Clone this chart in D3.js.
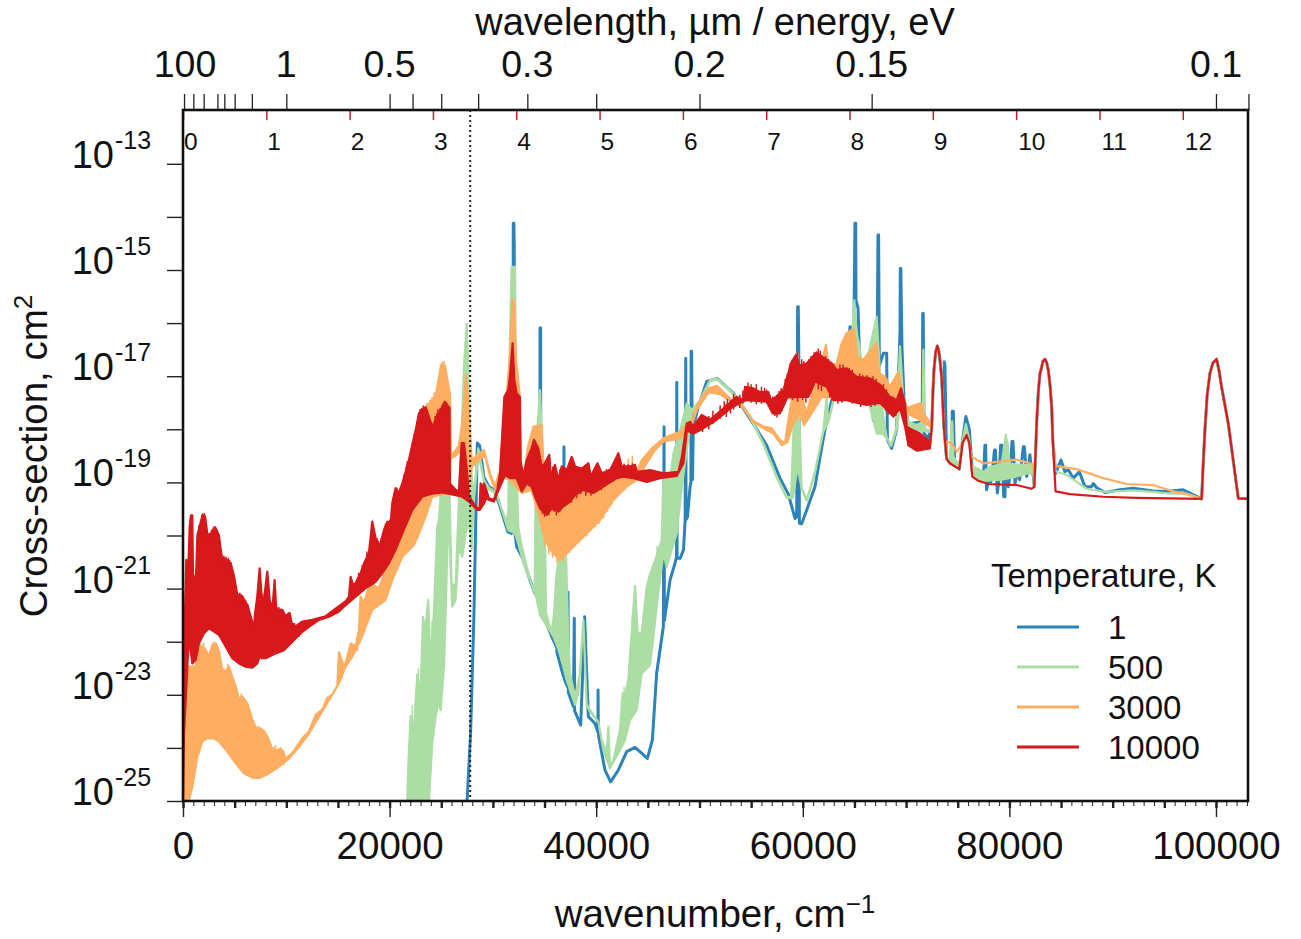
<!DOCTYPE html>
<html>
<head>
<meta charset="utf-8">
<script src="https://cdn.jsdelivr.net/npm/d3@7"></script>
<style>
html, body { margin: 0; padding: 0; background: #fff; }
text { font-family: "Liberation Sans", Arial, sans-serif; fill: #111; }
</style>
</head>
<body>
<div id="chart"></div>
<script>
// tick labels and legend
var xMajor = [0, 20000, 40000, 60000, 80000, 100000];
var yExponents = [-25, -24, -23, -22, -21, -20, -19, -18, -17, -16, -15, -14, -13];
var yLabelled = [-25, -23, -21, -19, -17, -15, -13];
var wavelengthTicks = [100, 10, 5, 3, 2.5, 2, 1.5, 1, 0.5, 0.45, 0.4, 0.35, 0.3, 0.25, 0.2, 0.15, 0.1, 0.09695];
var wavelengthLabels = [100, 1, 0.5, 0.3, 0.2, 0.15, 0.1];
var energyTicks = [0, 1, 2, 3, 4, 5, 6, 7, 8, 9, 10, 11, 12];
var temperatures = ["1", "500", "3000", "10000"];
var colors = ["#2b83ba", "#abdda4", "#fdae61", "#d7191c"];
var dottedWavenumber = 27800;

// the three narrow peaks all temperatures share: [wavenumber, log10 cross-section]
var peak1 = [[72470,-18.01],[72600,-17.3],[72700,-16.88],[72860,-16.55],[73020,-16.43],[73160,-16.52],[73280,-16.7],[73440,-17.01],[73660,-17.95],[73920,-18.55]];
var peak2 = [[82410,-19.08],[82640,-17.89],[82800,-17.3],[82960,-16.95],[83100,-16.85],[83250,-16.72],[83440,-16.68],[83620,-16.75],[83780,-16.9],[83950,-17.2],[84100,-17.6],[84200,-18.2]];
var peak3 = [[98610,-19.31],[98800,-18.5],[98930,-18.01],[99150,-17.35],[99410,-16.95],[99700,-16.75],[100060,-16.68],[100300,-16.9],[100540,-17.2],[101190,-17.89],[102160,-19.3],[103100,-19.31]];

// 1 K is a line with sharp spikes
var blueLine = [[27500,-25],[27840,-23.73],[28160,-21.53],[28490,-18.26],[28710,-18.3],[29130,-18.9],[29610,-19.08],[30100,-19.14],[30580,-19.39],[31450,-19.93],[31810,-19.96],[31950,-19.3],[31970,-14.12],[32030,-14.12],[32070,-14.56],[32100,-19.9],[32300,-20.21],[32950,-20.46],[33590,-20.84],[34080,-21.09],[34400,-21.18],[34540,-21.2],[34560,-16.09],[34620,-16.09],[34640,-21.4],[35850,-21.97],[36150,-22.1],[36170,-20.92],[36200,-22.2],[36820,-22.65],[36880,-18.33],[36910,-22.7],[37230,-22.85],[37270,-21.07],[37300,-22.95],[37790,-23.22],[37880,-21.56],[37910,-23.3],[38500,-23.57],[38690,-22.6],[38880,-21.53],[39080,-22.6],[39240,-23.41],[39880,-23.54],[40170,-23.7],[40180,-22.91],[40210,-23.75],[40850,-24.42],[41400,-24.64],[42140,-24.42],[42950,-24.07],[43760,-23.99],[44400,-24.1],[44950,-24.2],[45440,-23.85],[45850,-22.6],[46500,-21.72],[46570,-17.95],[46600,-21.6],[47150,-20.84],[47630,-20.52],[47780,-20.4],[47800,-17.12],[47830,-20.43],[48130,-20.43],[48450,-20.27],[48610,-19.71],[48670,-16.66],[48700,-19.7],[48840,-19.65],[49090,-19.08],[49170,-19],[49190,-16.53],[49240,-16.53],[49320,-18.95],[49400,-17.95],[49900,-17.57],[50700,-17.1],[51690,-17.04],[53280,-17.32],[54890,-17.8],[56500,-18.3],[57790,-18.92],[58600,-19.22],[59250,-19.68],[59410,-19.65],[59500,-15.69],[59560,-15.69],[59630,-16.82],[59670,-19.77],[59890,-19.78],[60380,-19.52],[61180,-19.08],[61670,-18.52],[62150,-18],[62800,-17.45],[64250,-17],[64570,-16.07],[64950,-16.1],[65050,-14.12],[65120,-14.12],[65150,-15.57],[65350,-15.72],[65540,-17],[66510,-17.13],[66830,-17.82],[67150,-17.9],[67280,-14.34],[67340,-14.34],[67410,-16.8],[67800,-16.57],[68120,-16.57],[68190,-18.2],[68600,-18.36],[69090,-18],[69410,-16.2],[69440,-14.97],[69490,-14.97],[69600,-16.44],[69800,-17.45],[70220,-17.9],[71350,-17.86],[71560,-18],[71610,-15.82],[71660,-15.82],[71730,-18.08],[72150,-18.17],[72310,-18.05]];
var blueTailA = [[73680,-18],[73700,-16.73],[73760,-16.8],[73920,-18.55],[74240,-18.64],[74440,-18.3],[74470,-17.66],[74570,-17.66],[74700,-18.64],[75150,-18.75],[75470,-18.2],[75790,-17.76],[76120,-18],[76410,-18.77],[76900,-18.82],[77200,-18.95],[77500,-18.9],[77630,-18.3],[77700,-18.3],[77790,-19.14],[78050,-18.9],[78200,-19],[78400,-18.7],[78560,-18.39],[78650,-18.39],[78830,-19.2],[79000,-18.95],[79150,-18.3],[79280,-18.3],[79450,-19.27],[79570,-19.27],[79680,-18.26],[79760,-18.26],[79890,-19.08],[80050,-18.9],[80250,-18.23],[80350,-18.23],[80540,-19.02],[80800,-18.8],[81000,-18.95],[81200,-18.6],[81350,-18.33],[81450,-18.33],[81670,-18.89],[81850,-18.7],[81990,-18.48],[82150,-18.8],[82310,-18.86]];
var blueTailB = [[84470,-18.83],[84990,-18.58],[85380,-18.8],[85700,-18.76],[86190,-18.92],[86770,-18.8],[87310,-19.08],[87960,-19.08],[88120,-19.02],[88450,-19.1],[89250,-19.19],[90700,-19.14],[91990,-19.11],[93930,-19.16],[95220,-19.17],[96830,-19.14]];

// 500 K: upper and lower edge of the dense band
var greenHi = [[21700,-25],[21810,-24.35],[22030,-23.4],[22360,-23.65],[22680,-22.62],[23000,-23],[23230,-21.53],[23420,-21.84],[23550,-21.59],[23740,-21.21],[23970,-22.47],[24290,-21.46],[24610,-19.83],[24780,-19.71],[24940,-19.24],[25580,-19.24],[25800,-19.2],[26000,-20.9],[26390,-20.96],[26710,-19.33],[26970,-18.08],[27200,-16.82],[27460,-16.02],[27710,-17.34],[27870,-18.64],[28100,-19.33],[28590,-18.36],[29130,-18.95],[29610,-19.1],[30360,-19.2],[30850,-19.5],[31330,-19.75],[31500,-19.5],[31590,-16.82],[31810,-14.94],[32140,-14.94],[32240,-17.2],[32300,-18.8],[32460,-19.85],[32790,-20.2],[33590,-20.84],[34050,-21.05],[34150,-18.6],[34300,-18],[34560,-17.26],[34720,-18.08],[34880,-19.33],[35050,-19.96],[35140,-21.45],[35690,-21.84],[35900,-21.5],[36170,-20.7],[36500,-20.32],[37080,-20.32],[37300,-21.97],[37460,-22.6],[37950,-23.03],[38430,-22.6],[38760,-21.59],[39080,-23.22],[39400,-23.28],[40210,-23.51],[40530,-23.85],[41010,-24.1],[41180,-23.6],[41340,-24.35],[41660,-24.23],[42300,-23.66],[42560,-22.97],[42790,-23.03],[43110,-22.72],[43760,-20.95],[44010,-21.84],[44400,-21.84],[44890,-20.98],[45210,-20.73],[45690,-20.48],[46340,-20.08],[46510,-18.89],[47160,-18.95],[47480,-18.45],[48130,-18.02],[48770,-17.51],[49260,-17.64],[50050,-17.45],[51020,-17.07],[51660,-17.04],[52630,-17.2],[53600,-17.39],[54890,-17.76],[56180,-18.26],[57470,-18.89],[58440,-19.27],[58860,-19.27],[59090,-18.08],[59500,-16.57],[59670,-17.76],[59890,-19.1],[60380,-19.33],[61180,-18.8],[61990,-18.02],[62310,-17.4],[62470,-17.85],[62960,-17.45],[64250,-17],[64730,-16.4],[64990,-15.57],[65220,-16.19],[65540,-16.5],[65860,-17],[67150,-15.88],[67410,-16.73],[67740,-17.7],[68120,-18.15],[68540,-18.3],[69090,-17.95],[69410,-16.44],[69730,-17.45],[70220,-17.86],[71030,-17.92],[71610,-17.86],[71670,-16.5],[71830,-18],[72310,-18.02]];
var greenLo = [[23810,-25],[24130,-23.92],[24450,-23.42],[24780,-23.1],[24940,-23.29],[25260,-22.47],[25420,-21.47],[25740,-19.33],[25900,-20.59],[26070,-21.34],[26390,-21.21],[26710,-20.15],[26810,-20.27],[27030,-20.4],[27620,-19.65],[27940,-20.27],[28100,-19.45],[28590,-18.45],[29130,-18.98],[29610,-19.13],[30360,-19.22],[30850,-19.52],[31490,-19.9],[32140,-19.96],[32460,-20.15],[32950,-20.52],[33590,-20.84],[34080,-21.09],[34240,-21.2],[34560,-21.5],[35850,-21.9],[36500,-22.22],[37140,-22.72],[37950,-23.19],[38270,-22.97],[38760,-21.62],[39080,-23.16],[39400,-23.32],[40210,-23.51],[40690,-24.04],[41340,-24.38],[42140,-24.1],[42790,-23.85],[43270,-23.47],[43920,-23.29],[44400,-22.6],[45210,-22.44],[45530,-21.92],[46020,-21.07],[46500,-20.33],[46820,-20.59],[47790,-19.96],[48290,-19.08],[48770,-18.39],[49260,-17.67],[50050,-17.47],[51020,-17.09],[51660,-17.06],[52630,-17.22],[53600,-17.41],[54890,-17.78],[56180,-18.28],[57470,-18.91],[58440,-19.29],[59050,-19.29],[59500,-18.7],[59890,-19.12],[60380,-19.35],[61180,-18.82],[61990,-18.04],[62470,-17.87],[62960,-17.47],[64250,-17.02],[64730,-16.88],[65220,-16.88],[65540,-16.82],[66670,-17.7],[67150,-18.08],[67740,-18.08],[68120,-18.17],[68540,-18.32],[69090,-18],[69410,-17.57],[69900,-17.89],[71030,-18.02],[72310,-18.05]];
var greenTailHi = [[73920,-18.55],[74240,-18.6],[74400,-17.9],[74470,-17.85],[74570,-18.5],[75150,-18.7],[75470,-18.2],[75790,-17.9],[76120,-18.2],[76410,-18.85],[76500,-18.7],[77470,-18.8],[78000,-18.72],[79250,-18.65],[79660,-18.1],[80050,-18.65],[82310,-18.68]];
var greenTailLo = [[73920,-18.57],[74240,-18.66],[75150,-18.75],[75470,-18.23],[75790,-17.93],[76120,-18.23],[76410,-18.87],[77470,-18.97],[79250,-18.95],[80500,-18.9],[82310,-18.8]];
var greenTailB = [[84470,-18.79],[85540,-18.86],[87480,-19.12],[89250,-19.18],[91990,-19.15],[93930,-19.18],[95560,-19.21],[97160,-19.21]];
var greenTips = [[22200,-23.2],[22800,-22.5],[23300,-21.6],[23650,-21.4],[24100,-21.6],[24450,-20.6],[24700,-19.9],[25000,-19.4],[42700,-22.85],[43300,-22.2],[43500,-21.5],[44700,-21.3],[45000,-20.85],[45400,-20.6],[45900,-20.2],[46800,-19.4],[47300,-18.85],[47900,-18.3]];

// 3000 K band
var orangeHi = [[0,-24.98],[130,-23.73],[260,-22.78],[420,-22.47],[650,-22.47],[970,-22.47],[1230,-22.47],[1390,-22.15],[1870,-22.09],[2190,-22.15],[2520,-22.28],[2840,-22.06],[3160,-22.03],[3480,-22.18],[3810,-22.53],[4130,-22.56],[4450,-22.47],[4770,-22.66],[5100,-22.84],[5420,-23.1],[5740,-23.03],[6230,-23.16],[6710,-23.47],[7100,-23.63],[7520,-23.63],[8000,-23.73],[8320,-23.85],[8650,-24.04],[9130,-24.04],[9610,-24.04],[9940,-24.2],[10580,-24.1],[11550,-23.82],[12190,-23.69],[12840,-23.38],[13480,-23.28],[13970,-23.06],[14450,-23],[14940,-22.84],[15100,-22.2],[15580,-22.47],[15740,-22.4],[16230,-22.03],[16710,-22.09],[17030,-21.78],[17190,-21.15],[17520,-21.28],[18000,-20.96],[18320,-20.9],[18650,-20.96],[18970,-20.99],[19610,-20.65],[20260,-20.4],[20900,-20.21],[21550,-19.83],[22190,-19.52],[22840,-19.27],[22940,-17.82],[23720,-17.54],[24490,-17.35],[24970,-16.8],[25360,-16.8],[25850,-17.35],[25950,-18.5],[26390,-18.4],[26710,-18.3],[27010,-17.92],[27400,-16.98],[27590,-17.45],[27880,-18.39],[27980,-18.58],[28400,-18.5],[29130,-18.39],[29720,-18.83],[30200,-19.08],[30690,-18.77],[31650,-16.63],[31880,-15.57],[32040,-15.57],[32240,-16.7],[32570,-17.3],[32690,-18.83],[32950,-18.95],[33430,-18.3],[33920,-17.95],[34720,-17.92],[34880,-18.58],[35500,-18.9],[38000,-18.9],[41000,-18.9],[43930,-18.8],[44410,-18.58],[45380,-18.36],[46510,-18.17],[48130,-18.04],[49260,-17.82],[49900,-17.5],[50880,-17.23],[51690,-17.18],[53280,-17.48],[54250,-17.57],[55210,-17.84],[56180,-17.95],[56990,-17.98],[57790,-18.2],[58280,-18.26],[58500,-17.95],[58920,-17.45],[59500,-17.07],[59890,-17.39],[60380,-17.7],[61180,-17.13],[61990,-16.62],[62250,-16.41],[62470,-16.82],[63280,-16.76],[63770,-16.38],[64250,-16.19],[64960,-16.1],[65280,-16.63],[65860,-16.69],[67150,-16.38],[67410,-16.95],[67960,-17.01],[68440,-17.2],[69250,-16.92],[69730,-17.39],[70060,-17.6],[71510,-17.5],[71670,-17.7],[72310,-17.86]];
var orangeLo = [[580,-24.98],[900,-24.73],[1390,-24.17],[1870,-23.88],[2350,-23.82],[3000,-23.82],[3480,-23.88],[4290,-24.07],[5100,-24.29],[5900,-24.48],[6710,-24.56],[7360,-24.57],[8320,-24.48],[9290,-24.35],[10260,-24.2],[11230,-23.98],[12190,-23.73],[13160,-23.41],[14130,-23.1],[15100,-22.78],[15740,-22.47],[16390,-22.28],[17190,-21.97],[17680,-21.72],[18320,-21.4],[19610,-21.21],[20260,-20.84],[21230,-20.4],[22360,-20.18],[22840,-19.96],[23480,-19.65],[24130,-19.27],[25840,-19.2],[25900,-18.55],[26390,-18.5],[26900,-18.4],[27100,-18.8],[27500,-19.3],[27980,-18.7],[28500,-18.6],[29240,-18.5],[29720,-18.88],[30200,-19.12],[30690,-18.89],[31650,-18.95],[32790,-19.2],[33750,-19.14],[34400,-19.58],[34880,-19.96],[35530,-20.27],[36490,-20.46],[37790,-20.21],[39080,-19.96],[40370,-19.71],[41660,-19.33],[42950,-19.08],[43930,-18.95],[44890,-18.64],[45700,-18.39],[46510,-18.23],[48130,-18.17],[49090,-18],[49740,-17.64],[50880,-17.3],[51990,-17.34],[53280,-17.5],[54250,-17.59],[55210,-17.86],[56180,-17.98],[57150,-18.08],[57960,-18.3],[58500,-18.24],[59090,-17.89],[59730,-17.7],[60120,-17.92],[60860,-17.7],[61830,-17.39],[62800,-17.4],[65000,-17.4],[68770,-17.6],[70060,-17.7],[71350,-17.82],[72310,-17.95]];
var orangeTailA = [[73920,-18.23],[74400,-18.26],[74890,-18.42],[75370,-18.3],[75860,-18.08],[76340,-18.52],[77470,-18.64],[79090,-18.61],[80700,-18.57],[82310,-18.66]];
var orangeTailB = [[84470,-18.69],[86510,-18.75],[89090,-18.92],[91350,-19.03],[93930,-19.05],[95870,-19.17],[97160,-19.22]];
var orangeTips = [[1500,-22.05],[1700,-22.05],[2000,-22.02],[2300,-22.2],[2650,-22.18],[2950,-22],[3300,-22.1],[3600,-22.3],[3950,-22.5],[4250,-22.5],[4350,-22.42],[4600,-22.55],[4900,-22.7],[5250,-22.95],[5550,-23.02],[5650,-22.98],[5900,-23.08],[6050,-23.1],[6400,-23.25],[6550,-23.35],[6850,-23.55],[7000,-23.6],[7300,-23.58],[7650,-23.65],[7800,-23.65],[8150,-23.8],[8450,-23.9],[8800,-23.98],[8950,-23.95],[9300,-24],[9450,-23.98],[9750,-24.05],[15200,-22.3],[15400,-22.4],[16900,-21.9],[17300,-21.5],[23000,-17.75],[23200,-17.7],[23400,-17.58],[23600,-17.5],[23900,-17.45],[24100,-17.4],[24300,-17.3],[24600,-17.25],[24800,-17],[25000,-16.75],[25150,-16.72],[25300,-16.72],[25500,-17],[25650,-17.2]];
var orangeBottomTips = [[35000,-20.2],[35400,-20.35],[35800,-20.42],[36200,-20.52],[36800,-20.5],[37000,-20.35],[37400,-20.33],[37900,-20.22],[38300,-20.15],[38700,-20.06],[39100,-20.02],[39500,-19.92],[39900,-19.85],[40300,-19.78],[40700,-19.68],[41100,-19.55],[41500,-19.42],[41900,-19.3],[42300,-19.2],[42700,-19.15],[43100,-19.05],[43500,-19]];

// 10000 K band
var redHi = [[0,-25],[60,-23.1],[190,-21.47],[320,-20.46],[520,-20.59],[650,-19.83],[770,-19.62],[900,-19.62],[970,-20.71],[1230,-20.96],[1390,-20],[1610,-19.83],[1870,-19.64],[2130,-19.64],[2350,-19.96],[2520,-20.02],[2840,-19.93],[3160,-19.87],[3480,-20],[3740,-20.4],[4130,-20.46],[4610,-20.52],[4940,-20.77],[5260,-21.12],[5740,-21.15],[6230,-21.31],[6650,-21.59],[6840,-21.78],[6970,-21.47],[7190,-21.15],[7420,-20.62],[7610,-21.15],[7840,-21.21],[8160,-20.68],[8390,-21.21],[8650,-21.4],[8870,-20.84],[9030,-21.4],[9610,-21.4],[9940,-21.52],[10320,-21.46],[10520,-21.65],[10900,-21.71],[11550,-21.62],[12520,-21.59],[13810,-21.52],[15100,-21.33],[15740,-21.24],[16070,-21.15],[16230,-20.78],[16450,-20.93],[16710,-20.9],[17190,-20.71],[17680,-20.46],[18000,-20.33],[18320,-19.74],[18650,-20.05],[19030,-20.21],[19450,-19.9],[19780,-19.74],[20100,-19.77],[20260,-19.39],[20580,-19.11],[20900,-19.2],[21230,-19.02],[21870,-18.58],[22520,-18.02],[22840,-17.7],[23480,-17.58],[24130,-17.95],[24780,-17.7],[25360,-17.48],[25800,-17.6],[25840,-19.02],[26390,-19.14],[26710,-19.17],[26970,-18.26],[27200,-18.26],[27450,-18.7],[27680,-19.24],[28000,-19.36],[28490,-19.49],[28710,-19.49],[28810,-19.02],[28970,-19.11],[29130,-19.02],[29360,-19.14],[29610,-19.3],[30100,-19.33],[30420,-19.14],[30690,-18.83],[31110,-17.39],[31490,-17.26],[31650,-17],[31910,-16.38],[32070,-17.07],[32300,-17.32],[32620,-17.39],[32690,-18.61],[32950,-18.89],[33270,-18.58],[33750,-18.36],[33980,-18.2],[34400,-18.36],[34720,-18.7],[35050,-18.64],[35460,-18.48],[35600,-18.89],[36010,-18.67],[36340,-18.95],[36660,-18.7],[37150,-18.77],[37630,-18.52],[37950,-18.7],[38600,-18.74],[39240,-18.64],[39470,-18.89],[40120,-18.64],[40540,-18.83],[41350,-18.77],[42150,-18.45],[42470,-18.7],[43280,-18.7],[43760,-18.67],[43930,-18.8],[45220,-18.77],[46510,-18.83],[47960,-18.8],[48290,-18.52],[48770,-17.89],[49090,-17.86],[49400,-17.95],[50210,-17.73],[51020,-17.82],[52310,-17.61],[53600,-17.39],[54250,-17.45],[54410,-17.2],[55210,-17.23],[55860,-17.3],[56670,-17.3],[56890,-17.45],[57410,-17.39],[58120,-17.26],[58600,-16.95],[58830,-16.76],[59340,-16.6],[59670,-16.8],[60380,-16.76],[61340,-16.55],[61990,-16.65],[62800,-16.76],[63280,-16.88],[64250,-16.85],[65220,-17.01],[66510,-17.04],[67480,-17.16],[68440,-17.39],[69090,-17.45],[69510,-17.23],[69900,-17.52],[70060,-17.95],[70700,-18.02],[71350,-18.08],[72310,-18.24]];
var redLo = [[0,-25],[100,-23.73],[420,-22.47],[580,-21.9],[900,-22.41],[1230,-22.34],[1550,-22.03],[2030,-21.84],[2520,-21.75],[3000,-21.81],[3480,-21.87],[4130,-22.09],[4770,-22.31],[5420,-22.41],[6060,-22.47],[6710,-22.49],[7190,-22.41],[7420,-22.28],[7610,-22.31],[8000,-22.31],[8970,-22.22],[9770,-22.16],[10580,-22],[11390,-21.84],[12190,-21.72],[13160,-21.59],[14130,-21.53],[15100,-21.43],[15740,-21.31],[16710,-21.15],[17680,-20.99],[18650,-20.87],[19290,-20.71],[19940,-20.52],[20580,-20.27],[21230,-19.96],[22190,-19.52],[23160,-19.27],[24130,-19.21],[25100,-19.19],[26390,-19.24],[27030,-19.27],[27680,-19.36],[28000,-19.42],[28490,-19.52],[28710,-19.52],[29130,-19.4],[29360,-19.3],[29610,-19.33],[30100,-19.36],[30420,-19.2],[30690,-19.08],[31170,-18.86],[31650,-18.92],[32300,-18.92],[32790,-19.17],[33270,-19.02],[33750,-19.08],[34080,-19.27],[34560,-19.49],[35210,-19.61],[35690,-19.49],[36340,-19.55],[36820,-19.45],[37470,-19.36],[37950,-19.24],[38760,-19.14],[39720,-19.2],[40690,-19.08],[41980,-18.92],[42630,-18.89],[43600,-18.92],[44890,-18.99],[46180,-18.92],[47790,-18.88],[48450,-18.64],[48770,-18.02],[49400,-18.08],[50050,-18.02],[51660,-17.82],[52950,-17.61],[53920,-17.5],[54570,-17.45],[56500,-17.48],[57080,-17.7],[57790,-17.7],[58500,-17.4],[59730,-17.39],[60540,-17.39],[61180,-17.1],[62310,-17.2],[62960,-17.45],[64250,-17.45],[65220,-17.5],[66190,-17.54],[67480,-17.5],[68770,-17.76],[69410,-17.6],[69900,-17.95],[70220,-18.3],[71030,-18.4],[72310,-18.36]];
var redTailA = [[74240,-18.64],[75150,-18.75],[75470,-18.26],[75860,-18.11],[76120,-18.26],[76410,-18.89],[76990,-18.97],[77960,-19.03],[80700,-19.05],[82150,-19.12]];
var redTailB = [[84470,-19.17],[85860,-19.22],[89090,-19.27],[92320,-19.29]];
var redTips = [[1450,-19.95],[1550,-19.8],[1650,-19.78],[1750,-19.7],[1830,-19.6],[1920,-19.58],[2000,-19.62],[2080,-19.58],[2180,-19.68],[2260,-19.8],[2340,-19.9],[2430,-19.98],[2560,-19.95],[2650,-19.95],[2740,-19.9],[2830,-19.88],[2920,-19.85],[3010,-19.83],[3100,-19.82],[3200,-19.85],[3290,-19.88],[3380,-19.95],[3470,-19.98],[3560,-20.15],[3650,-20.3],[3750,-20.35],[3850,-20.42],[3960,-20.38],[4070,-20.42],[4180,-20.4],[4290,-20.44],[4400,-20.42],[4510,-20.46],[4620,-20.5],[4730,-20.6],[4840,-20.7],[4950,-20.75],[5060,-20.9],[5170,-21.05],[5280,-21.08],[5390,-21.1],[5500,-21.08],[5610,-21.1],[5720,-21.12],[5830,-21.15],[5940,-21.2],[6050,-21.22],[6160,-21.28],[6270,-21.3],[6380,-21.4],[6490,-21.5],[6600,-21.55],[7000,-21.45],[7100,-21.3],[7300,-21.05],[7700,-21.1],[7950,-21.2],[8050,-21],[8280,-21.1],[8500,-21.3],[8750,-21.3],[9150,-21.35],[9300,-21.35],[9450,-21.38],[9700,-21.42],[9800,-21.5],[10100,-21.5],[10200,-21.45],[10400,-21.55],[10650,-21.65],[10800,-21.65],[11000,-21.68],[11250,-21.65],[11400,-21.62],[16900,-20.78],[17000,-20.7],[17350,-20.55],[17500,-20.5],[17800,-20.3],[18150,-20.2],[18480,-19.95],[18800,-20.05],[18900,-20.1],[19200,-20.05],[19350,-19.95],[19600,-19.78],[19900,-19.75],[20000,-19.7],[20400,-19.2],[20700,-19.1],[21050,-19.1],[21400,-18.85],[21600,-18.7],[21700,-18.6],[22000,-18.5],[22200,-18.25],[22350,-18.1],[22650,-17.85],[22950,-17.62],[23100,-17.6],[23250,-17.55],[23350,-17.6],[23600,-17.62],[23750,-17.75],[23900,-17.85],[24250,-17.9],[24400,-17.75],[24550,-17.7],[24680,-17.62],[24900,-17.6],[25050,-17.55],[25200,-17.5],[25500,-17.5],[25650,-17.55],[35200,-18.6],[35800,-18.7],[36200,-18.85],[36500,-18.75],[36900,-18.72],[37300,-18.7],[38200,-18.75],[38900,-18.72],[39700,-18.8],[39900,-18.72],[40300,-18.75],[40700,-18.8],[41000,-18.75],[41700,-18.72],[42000,-18.6],[42700,-18.65],[43100,-18.66],[43500,-18.64],[52600,-17.52],[53000,-17.45],[53300,-17.38],[53900,-17.35],[54700,-17.12],[55000,-17.15],[55500,-17.15],[56000,-17.2],[56300,-17.22],[56500,-17.25],[57100,-17.38],[57700,-17.28],[57900,-17.22],[58300,-17.05],[58500,-16.95],[59000,-16.68],[59200,-16.62],[59500,-16.55],[59900,-16.68],[60100,-16.72],[60600,-16.68],[60800,-16.62],[61100,-16.55],[61500,-16.48],[61700,-16.52],[62200,-16.62],[62500,-16.68],[63000,-16.78],[63600,-16.78],[63900,-16.78],[64500,-16.85],[64800,-16.88],[65500,-16.95],[65800,-16.98],[66200,-16.98],[66800,-17],[67100,-17.05],[67800,-17.15],[68100,-17.25],[68700,-17.38]];
var redBottomTips = [[34800,-19.6],[35000,-19.65],[35400,-19.62],[35900,-19.55],[36150,-19.62],[36500,-19.55],[37000,-19.45],[37600,-19.38],[38100,-19.3],[38500,-19.22],[39000,-19.25],[39500,-19.25],[40100,-19.15],[40500,-19.15],[41200,-19],[41700,-18.98],[50300,-18.05],[50900,-18],[51300,-17.9],[52000,-17.8],[52400,-17.72],[52700,-17.68],[53300,-17.58],[54200,-17.52],[55000,-17.5],[55500,-17.53],[56000,-17.52],[56800,-17.6],[57300,-17.75],[57500,-17.78],[58000,-17.65],[58200,-17.55],[59000,-17.45],[59500,-17.48],[60000,-17.45],[60300,-17.5],[60800,-17.3],[61500,-17.25],[61800,-17.28],[62600,-17.4],[63400,-17.52],[63800,-17.5],[64800,-17.52],[65600,-17.58],[66600,-17.58],[67000,-17.56],[68000,-17.65],[68300,-17.72],[69000,-17.75]];

var width = 1301, height = 939;
var svg = d3.select("#chart").append("svg")
	.attr("width", width)
	.attr("height", height)
	.style("display", "block");

var x = d3.scaleLinear().domain([0, 103100]).range([183, 1248]);
var y = d3.scaleLinear().domain([-25, -12]).range([801, 110.7]);

var line = d3.line().x(function(d) { return x(d[0]); }).y(function(d) { return y(d[1]); });

var plot = svg.append("g");

function drawBand(hi, lo, color, strokeWidth) {
	// polygon between the two edges; the stroke keeps the single-line parts visible
	plot.append("path")
		.attr("d", line(hi.concat(lo.slice().reverse())) + "Z")
		.attr("fill", color)
		.attr("stroke", color)
		.attr("stroke-width", strokeWidth)
		.attr("stroke-linejoin", "round");
}

// short vertical lines that roughen a band edge, depth is how far they reach into the band
function drawTips(tips, color, depth) {
	plot.append("g").selectAll("line").data(tips).enter().append("line")
		.attr("x1", function(d) { return x(d[0]); })
		.attr("x2", function(d) { return x(d[0]); })
		.attr("y1", function(d) { return y(d[1]); })
		.attr("y2", function(d) { return y(d[1] + depth); })
		.attr("stroke", color)
		.attr("stroke-width", 1.5);
}

// blue first, red last
plot.append("path")
	.attr("d", line(blueLine.concat(peak1, blueTailA, peak2, blueTailB, peak3)))
	.attr("fill", "none")
	.attr("stroke", colors[0])
	.attr("stroke-width", 3)
	.attr("stroke-linejoin", "round");

drawBand(greenHi.concat(peak1, greenTailHi, peak2, greenTailB, peak3),
	greenLo.concat(peak1, greenTailLo, peak2, greenTailB, peak3), colors[1], 2.2);
drawTips(greenTips, colors[1], -0.5);

drawBand(orangeHi.concat(peak1, orangeTailA, peak2, orangeTailB, peak3),
	orangeLo.concat(peak1, orangeTailA, peak2, orangeTailB, peak3), colors[2], 2.2);
drawTips(orangeTips, colors[2], -0.28);
drawTips(orangeBottomTips, colors[2], 0.5);

drawBand(redHi.concat(peak1, redTailA, peak2, redTailB, peak3),
	redLo.concat(peak1, redTailA, peak2, redTailB, peak3), colors[3], 2.2);
drawTips(redTips, colors[3], -0.25);
drawTips(redBottomTips, colors[3], 0.25);

// dotted line
svg.append("line")
	.attr("x1", x(dottedWavenumber)).attr("x2", x(dottedWavenumber))
	.attr("y1", 110).attr("y2", 801)
	.attr("stroke", "#222")
	.attr("stroke-width", 2)
	.attr("stroke-dasharray", "2 3");

// bottom axis: long ticks, 5000 ticks, 1000 ticks
function styleAxis(g, w, col) {
	g.select(".domain").remove();
	g.selectAll("line").attr("stroke", col || "#222").attr("stroke-width", w);
}
var minorTicks = d3.range(0, 103001, 1000);
var midTicks = d3.range(0, 103001, 5000);

svg.append("g").attr("transform", "translate(0,801)")
	.call(d3.axisBottom(x).tickValues(minorTicks).tickSize(5).tickFormat(""))
	.call(styleAxis, 1.1, "#333");
svg.append("g").attr("transform", "translate(0,801)")
	.call(d3.axisBottom(x).tickValues(midTicks).tickSize(7).tickFormat(""))
	.call(styleAxis, 2.4);
var bottom = svg.append("g").attr("transform", "translate(0,801)")
	.call(d3.axisBottom(x).tickValues(xMajor).tickSize(16).tickPadding(15).tickFormat(String))
	.call(styleAxis, 1.4);
bottom.selectAll("text").style("font-size", "38.5px").attr("fill", "#111");

// left axis with 10^n labels
var left = svg.append("g").attr("transform", "translate(183,0)")
	.call(d3.axisLeft(y).tickValues(yExponents).tickSize(16).tickFormat(""))
	.call(styleAxis, 1.4);

yLabelled.forEach(function(e) {
	svg.append("text").attr("x", 114).attr("y", y(e) + 4)
		.attr("text-anchor", "end").style("font-size", "38px").text("10");
	svg.append("text").attr("x", 115).attr("y", y(e) - 15)
		.style("font-size", "25px").text(e);
});

// top axis, wavelength ticks outside and energy ticks inside
var top1 = svg.append("g").attr("transform", "translate(0,110)")
	.call(d3.axisTop(x).tickValues(wavelengthTicks.map(function(w) { return 1e4 / w; })).tickSize(16).tickFormat(""))
	.call(styleAxis, 1.3);

wavelengthLabels.forEach(function(w) {
	svg.append("text").attr("x", x(1e4 / w) + (w == 100 ? 1 : 0)).attr("y", 76.5)
		.attr("text-anchor", "middle").style("font-size", "37.5px").text(w);
});

var eV = svg.append("g").attr("transform", "translate(0,110)")
	.call(d3.axisBottom(x).tickValues(energyTicks.map(function(e) { return e * 8065.5; })).tickSize(10).tickFormat(""))
	.call(styleAxis, 1.5, "#c0212b");

energyTicks.forEach(function(e) {
	svg.append("text").attr("x", x(e * 8065.5) + (e > 9 ? 2 : 1)).attr("y", 150)
		.style("font-size", "24.5px").text(e);
});

// frame
svg.append("rect")
	.attr("x", 183).attr("y", 110)
	.attr("width", 1065).attr("height", 691)
	.attr("fill", "none")
	.attr("stroke", "#111")
	.attr("stroke-width", 2.6);

// titles
svg.append("text").attr("x", 715).attr("y", 34.5)
	.attr("text-anchor", "middle").style("font-size", "38px")
	.text("wavelength, \u00b5m / energy, eV");

var xTitle = svg.append("text").attr("x", 715).attr("y", 927)
	.attr("text-anchor", "middle").style("font-size", "38.5px");
xTitle.append("tspan").text("wavenumber, cm");
xTitle.append("tspan").attr("dy", -14).style("font-size", "26px").text("\u22121");

var yTitle = svg.append("text")
	.attr("transform", "translate(47,456) rotate(-90)")
	.attr("text-anchor", "middle").style("font-size", "38.5px");
yTitle.append("tspan").text("Cross-section, cm");
yTitle.append("tspan").attr("dy", -15).style("font-size", "26px").text("2");

// legend
svg.append("text").attr("x", 991).attr("y", 587).style("font-size", "33px").text("Temperature, K");
temperatures.forEach(function(t, i) {
	var ly = 627 + i * 40;
	svg.append("line")
		.attr("x1", 1017).attr("x2", 1079)
		.attr("y1", ly).attr("y2", ly)
		.attr("stroke", colors[i])
		.attr("stroke-width", 3);
	svg.append("text").attr("x", 1108).attr("y", ly + 12)
		.style("font-size", "33px").text(t);
});
</script>
</body>
</html>
